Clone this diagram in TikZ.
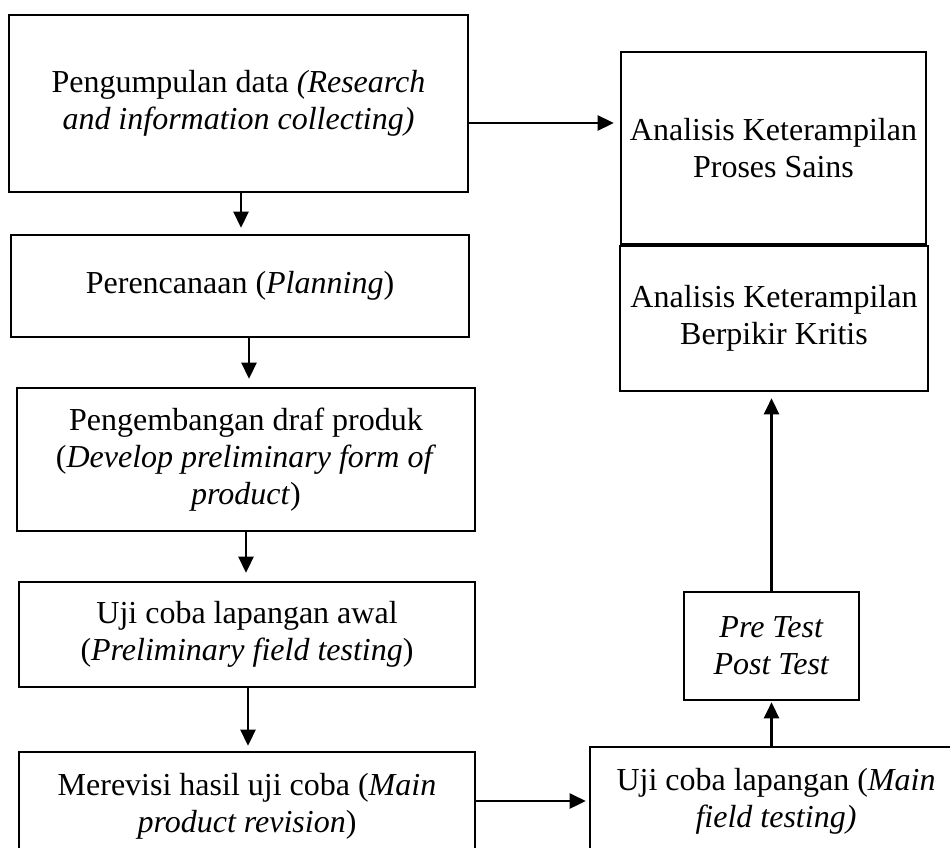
\documentclass[tikz,border=0pt]{standalone}
\usepackage{fontspec}
\setmainfont{Liberation Serif}
\usetikzlibrary{arrows.meta}
\begin{document}
\begin{tikzpicture}[x=1pt,y=-1pt,
  box/.style={draw,line width=2.6pt,rectangle,align=center,inner sep=0pt,
    font=\fontsize{32}{37}\selectfont},
  arr/.style={line width=2.6pt,-{Triangle[length=16pt,width=15pt]}}]
\useasboundingbox (0,0) rectangle (950,848);
\clip (0,0) rectangle (950,848);
\node[box,minimum width=459pt,minimum height=177pt] (b1) at (238.5,103.5)
  {Pengumpulan data \textit{(Research}\\\textit{and information collecting)}};
\node[box,minimum width=458pt,minimum height=102pt] (b2) at (240,286)
  {Perencanaan (\textit{Planning})};
\node[box,minimum width=458pt,minimum height=143pt] (b3) at (246,459.5)
  {Pengembangan draf produk\\(\textit{Develop preliminary form of}\\\textit{product})};
\node[box,minimum width=456pt,minimum height=105pt] (b4) at (247,634.5)
  {Uji coba lapangan awal\\(\textit{Preliminary field testing})};
\node[box,minimum width=456pt,minimum height=108pt] (b5) at (247,806)
  {Merevisi hasil uji coba (\textit{Main}\\\textit{product revision})};
\node[box,minimum width=372pt,minimum height=108pt] (b6) at (776,801)
  {Uji coba lapangan (\textit{Main}\\\textit{field testing)}};
\node[box,minimum width=175pt,minimum height=108pt] (pre) at (771.5,646)
  {\textit{Pre Test}\\\textit{Post Test}};
\node[box,minimum width=308pt,minimum height=145pt] (berp) at (774,318.5)
  {Analisis Keterampilan\\Berpikir Kritis};
\node[box,minimum width=305pt,minimum height=192pt] (proses) at (773.5,148)
  {Analisis Keterampilan\\Proses Sains};
\draw[arr,shorten >=6pt] ([xshift=2.5pt]b1.south) -- ([xshift=2.5pt]b1.south |- b2.north);
\draw[arr,shorten >=8pt] ([xshift=9pt]b2.south) -- ([xshift=9pt]b2.south |- b3.north);
\draw[arr,shorten >=8pt] (b3.south) -- (b3.south |- b4.north);
\draw[arr,shorten >=5pt] ([xshift=1pt]b4.south) -- ([xshift=1pt]b4.south |- b5.north);
\draw[arr,shorten >=6pt] ([yshift=-19.5pt]b1.east) -- ([yshift=-19.5pt]b1.east -| proses.west);
\draw[arr,shorten >=3pt] ([yshift=5pt]b5.east) -- ([yshift=5pt]b5.east -| b6.west);
\draw[arr,shorten >=1pt] (pre.south |- b6.north) -- (pre.south);
\draw[arr,shorten >=6pt] (pre.north) -- (pre.north |- berp.south);
\end{tikzpicture}
\end{document}
